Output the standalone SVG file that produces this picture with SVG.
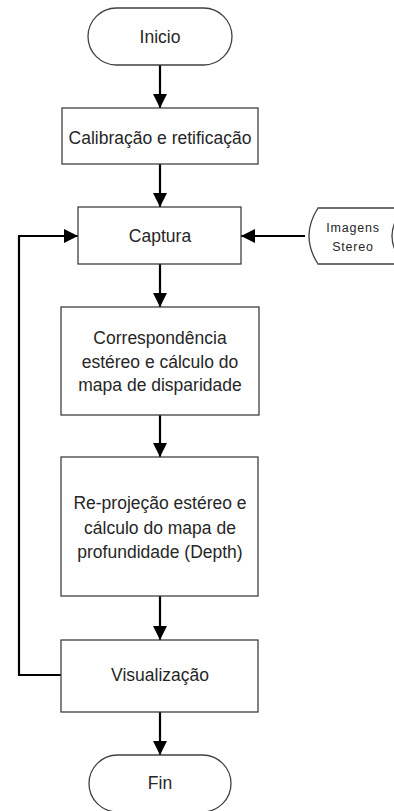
<svg xmlns="http://www.w3.org/2000/svg" width="394" height="811" viewBox="0 0 394 811">
<defs>
<style>
.box{fill:#ffffff;stroke:#404040;stroke-width:1.3}
.t{font-family:"Liberation Sans",Arial,sans-serif;font-size:17.5px;fill:#262626;text-anchor:middle}
.s{font-family:"Liberation Sans",Arial,sans-serif;font-size:12.5px;letter-spacing:0.8px;fill:#262626;text-anchor:middle}
.c{fill:none;stroke:#000000;stroke-width:2.2}
</style>
<marker id="ah" markerUnits="userSpaceOnUse" markerWidth="14" markerHeight="14" viewBox="0 0 12 12" refX="12" refY="6" orient="auto">
<path d="M0,0 L12,6 L0,12 Z" fill="#000000"/>
</marker>
</defs>
<rect width="394" height="811" fill="#ffffff"/>
<g id="connectors">
<line class="c" x1="160" y1="65" x2="160" y2="108" marker-end="url(#ah)"/>
<line class="c" x1="160" y1="164" x2="160" y2="207" marker-end="url(#ah)"/>
<line class="c" x1="305" y1="236" x2="241" y2="236" marker-end="url(#ah)"/>
<line class="c" x1="160" y1="264" x2="160" y2="307" marker-end="url(#ah)"/>
<line class="c" x1="160" y1="415" x2="160" y2="457" marker-end="url(#ah)"/>
<line class="c" x1="160" y1="596" x2="160" y2="640" marker-end="url(#ah)"/>
<line class="c" x1="160" y1="712" x2="160" y2="755" marker-end="url(#ah)"/>
<path class="c" d="M61,675 H19 V236 H78" marker-end="url(#ah)"/>
</g>
<g id="inicio">
<rect class="box" x="88" y="8" width="144" height="57" rx="28.5" ry="28.5"/>
<text class="t" x="160" y="43">Inicio</text>
</g>
<g id="calibracao">
<rect class="box" x="62" y="108" width="196" height="56"/>
<text class="t" x="160" y="144">Calibração e retificação</text>
</g>
<g id="captura">
<rect class="box" x="78" y="207" width="163" height="57"/>
<text class="t" x="160" y="242">Captura</text>
</g>
<g id="imagens">
<path class="box" d="M400,208 H318 Q300,236 318,264 H400 Z"/>
<path class="box" fill="none" d="M404,208 Q380,236 404,264"/>
<text class="s" x="353" y="232">Imagens</text>
<text class="s" x="353" y="251">Stereo</text>
</g>
<g id="correspondencia">
<rect class="box" x="61" y="307" width="198" height="108"/>
<text class="t" x="160" y="344">Correspondência</text>
<text class="t" x="160" y="368">estéreo e cálculo do</text>
<text class="t" x="160" y="391">mapa de disparidade</text>
</g>
<g id="reprojecao">
<rect class="box" x="61" y="457" width="197" height="139"/>
<text class="t" x="160" y="509">Re-projeção estéreo e</text>
<text class="t" x="160" y="534">cálculo do mapa de</text>
<text class="t" x="160" y="558">profundidade (Depth)</text>
</g>
<g id="visualizacao">
<rect class="box" x="61" y="640" width="197" height="72"/>
<text class="t" x="160" y="681">Visualização</text>
</g>
<g id="fin">
<rect class="box" x="89" y="755" width="142" height="57" rx="28.5" ry="28.5"/>
<text class="t" x="160" y="789">Fin</text>
</g>
</svg>
